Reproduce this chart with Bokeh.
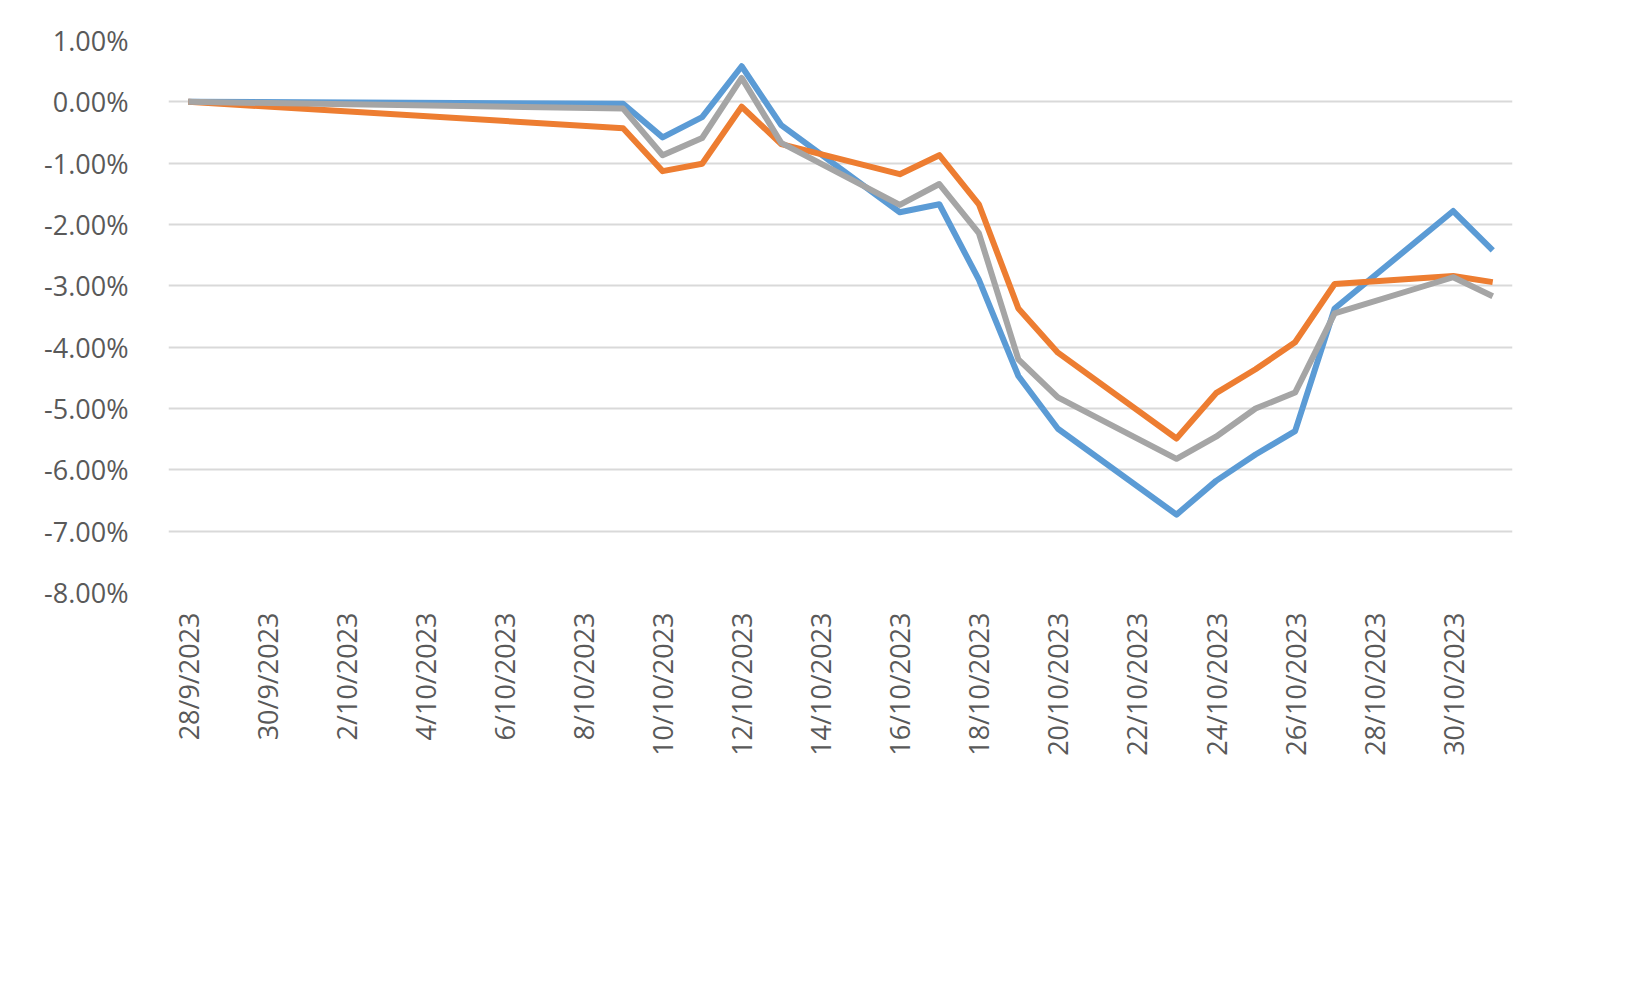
import math
from bokeh.plotting import figure
from bokeh.models import Range1d, FixedTicker, Legend, LegendItem
from bokeh.embed import file_html
from bokeh.resources import INLINE

days = [0, 11, 12, 13, 14, 15, 18, 19, 20, 21, 22, 25, 26, 27, 28, 29, 32, 33]
shenzhen = [0, -0.03, -0.58, -0.25, 0.58, -0.38, -1.80, -1.67, -2.90, -4.47, -5.33, -6.73, -6.18, -5.75, -5.37, -3.37, -1.78, -2.42]
shanghai = [0, -0.43, -1.13, -1.01, -0.08, -0.69, -1.18, -0.87, -1.67, -3.37, -4.09, -5.49, -4.75, -4.36, -3.92, -2.97, -2.84, -2.94]
csi300 = [0, -0.11, -0.87, -0.59, 0.39, -0.67, -1.68, -1.34, -2.14, -4.20, -4.82, -5.82, -5.46, -5.00, -4.74, -3.45, -2.86, -3.17]
tick_days = list(range(0, 33, 2))
tick_labels = ["28/9/2023", "30/9/2023", "2/10/2023", "4/10/2023", "6/10/2023", "8/10/2023",
               "10/10/2023", "12/10/2023", "14/10/2023", "16/10/2023", "18/10/2023", "20/10/2023",
               "22/10/2023", "24/10/2023", "26/10/2023", "28/10/2023", "30/10/2023"]

p = figure(frame_width=1344, frame_height=552, output_backend="svg", toolbar_location=None,
           x_range=Range1d(-0.5, 33.5), y_range=Range1d(-8.0, 1.0),
           min_border_left=168, min_border_right=40, min_border_top=40, min_border_bottom=10)
p.outline_line_color = None
p.border_fill_color = "white"

font = "Open Sans"
cols = ["#5B9BD5", "#ED7D31", "#A5A5A5"]
names = ["Shenzhen Component Index", "Shanghai Composite Index", "CSI300 Index"]
rs = []
for ys, c in zip([shenzhen, shanghai, csi300], cols):
    rs.append(p.line(days, ys, line_color=c, line_width=6, line_join="round"))

p.yaxis.ticker = FixedTicker(ticks=list(range(-8, 2)))
p.yaxis.major_label_overrides = {v: f"{v:.2f}%" for v in range(-8, 2)}
p.xaxis.ticker = FixedTicker(ticks=tick_days)
p.xaxis.major_label_overrides = {d: l for d, l in zip(tick_days, tick_labels)}
p.xaxis.major_label_orientation = math.pi / 2
for ax in [p.xaxis, p.yaxis]:
    ax.axis_line_color = None
    ax.major_tick_line_color = None
    ax.minor_tick_line_color = None
    ax.major_label_text_font = font
    ax.major_label_text_font_size = "27px"
    ax.major_label_text_color = "#595959"
p.xaxis.major_label_standoff = 14
p.yaxis.major_label_standoff = 34
p.xgrid.grid_line_color = None
p.ygrid.ticker = FixedTicker(ticks=list(range(-8, 2)))
p.ygrid.grid_line_color = "#D9D9D9"
p.ygrid.grid_line_width = 2

legend = Legend(items=[LegendItem(label=n, renderers=[r]) for n, r in zip(names, rs)],
                orientation="horizontal", location="center",
                label_text_font=font, label_text_font_size="27px", label_text_color="#595959",
                glyph_width=90, spacing=14, label_standoff=4, border_line_color=None,
                margin=30, padding=10)
p.add_layout(legend, "below")

open("out.html", "w").write(file_html(p, INLINE))
